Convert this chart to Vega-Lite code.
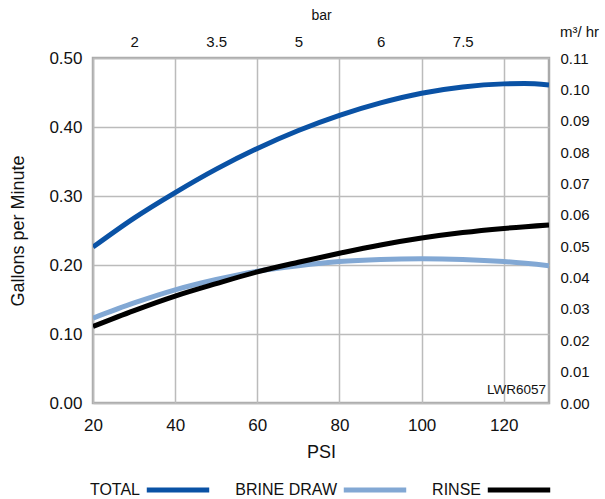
{
  "$schema": "https://vega.github.io/schema/vega-lite/v6.json",
  "width": 456,
  "height": 345,
  "autosize": {"type": "none"},
  "padding": {"left": 93, "top": 58, "right": 56, "bottom": 96},
  "background": "white",
  "config": {
    "font": "Liberation Sans",
    "view": {"stroke": "#aaaaaa", "strokeWidth": 2.5},
    "axis": {"labelColor": "#111", "titleColor": "#111", "titleFontWeight": "normal", "domain": false, "ticks": false, "labelFlush": false, "labelOverlap": false}
  },
  "datasets": {
    "curves": [
      {"psi": 20, "series": "TOTAL", "gpm": 0.226},
      {"psi": 30, "series": "TOTAL", "gpm": 0.268},
      {"psi": 40, "series": "TOTAL", "gpm": 0.305},
      {"psi": 50, "series": "TOTAL", "gpm": 0.339},
      {"psi": 60, "series": "TOTAL", "gpm": 0.369},
      {"psi": 70, "series": "TOTAL", "gpm": 0.395},
      {"psi": 80, "series": "TOTAL", "gpm": 0.417},
      {"psi": 90, "series": "TOTAL", "gpm": 0.435},
      {"psi": 100, "series": "TOTAL", "gpm": 0.449},
      {"psi": 110, "series": "TOTAL", "gpm": 0.458},
      {"psi": 120, "series": "TOTAL", "gpm": 0.4625},
      {"psi": 125, "series": "TOTAL", "gpm": 0.463},
      {"psi": 131, "series": "TOTAL", "gpm": 0.461},
      {"psi": 20, "series": "BRINE DRAW", "gpm": 0.123},
      {"psi": 30, "series": "BRINE DRAW", "gpm": 0.145},
      {"psi": 40, "series": "BRINE DRAW", "gpm": 0.164},
      {"psi": 50, "series": "BRINE DRAW", "gpm": 0.179},
      {"psi": 60, "series": "BRINE DRAW", "gpm": 0.191},
      {"psi": 70, "series": "BRINE DRAW", "gpm": 0.199},
      {"psi": 80, "series": "BRINE DRAW", "gpm": 0.205},
      {"psi": 90, "series": "BRINE DRAW", "gpm": 0.208},
      {"psi": 100, "series": "BRINE DRAW", "gpm": 0.209},
      {"psi": 110, "series": "BRINE DRAW", "gpm": 0.208},
      {"psi": 120, "series": "BRINE DRAW", "gpm": 0.205},
      {"psi": 131, "series": "BRINE DRAW", "gpm": 0.199},
      {"psi": 20, "series": "RINSE", "gpm": 0.111},
      {"psi": 30, "series": "RINSE", "gpm": 0.134},
      {"psi": 40, "series": "RINSE", "gpm": 0.155},
      {"psi": 50, "series": "RINSE", "gpm": 0.173},
      {"psi": 60, "series": "RINSE", "gpm": 0.190},
      {"psi": 70, "series": "RINSE", "gpm": 0.204},
      {"psi": 80, "series": "RINSE", "gpm": 0.217},
      {"psi": 90, "series": "RINSE", "gpm": 0.229},
      {"psi": 100, "series": "RINSE", "gpm": 0.239},
      {"psi": 110, "series": "RINSE", "gpm": 0.247},
      {"psi": 120, "series": "RINSE", "gpm": 0.253},
      {"psi": 131, "series": "RINSE", "gpm": 0.258}
    ],
    "secondary": [
      {"psi": 20, "m3": 0},
      {"psi": 131, "m3": 0.11}
    ],
    "note": [
      {"psi": 130.3, "gpm": 0.019, "label": "LWR6057"}
    ]
  },
  "layer": [
    {
      "layer": [
        {
          "data": {"name": "curves"},
          "mark": {"type": "line", "strokeWidth": 5, "interpolate": "monotone", "clip": true},
          "encoding": {
            "x": {
              "field": "psi", "type": "quantitative",
              "scale": {"domain": [20, 131], "nice": false, "zero": false},
              "axis": {
                "orient": "bottom", "values": [20, 40, 60, 80, 100, 120], "title": "PSI",
                "grid": true, "gridColor": "#bbbbbb", "gridWidth": 1.5,
                "labelFontSize": 17, "labelPadding": 14, "titleFontSize": 18, "titlePadding": 10
              }
            },
            "y": {
              "field": "gpm", "type": "quantitative",
              "scale": {"domain": [0, 0.5], "nice": false},
              "axis": {
                "orient": "left", "values": [0, 0.1, 0.2, 0.3, 0.4, 0.5], "format": ".2f",
                "title": "Gallons per  Minute", "grid": true, "gridColor": "#bbbbbb", "gridWidth": 1.5,
                "labelFontSize": 17, "labelPadding": 11, "titleFontSize": 18, "titlePadding": 21
              }
            },
            "color": {
              "field": "series", "type": "nominal",
              "scale": {"domain": ["TOTAL", "BRINE DRAW", "RINSE"], "range": ["#0a52a5", "#82a8d4", "#000000"]},
              "legend": {
                "title": null, "orient": "none", "direction": "horizontal",
                "legendX": 51, "legendY": 398,
                "symbolType": "stroke", "symbolSize": 3900, "symbolStrokeWidth": 5,
                "labelFontSize": 16, "labelAlign": "right", "labelOffset": -72,
                "columnPadding": 15, "labelLimit": 200, "labelColor": "#111"
              }
            }
          }
        },
        {
          "data": {"name": "note"},
          "mark": {"type": "text", "align": "right", "baseline": "middle", "fontSize": 13.5, "color": "#111"},
          "encoding": {
            "x": {"field": "psi", "type": "quantitative"},
            "y": {"field": "gpm", "type": "quantitative"},
            "text": {"field": "label"}
          }
        }
      ]
    },
    {
      "data": {"name": "secondary"},
      "mark": {"type": "point", "opacity": 0},
      "encoding": {
        "x": {
          "field": "psi", "type": "quantitative",
          "axis": {
            "orient": "top", "values": [30, 50, 70, 90, 110],
            "labelExpr": "datum.value == 30 ? '2' : datum.value == 50 ? '3.5' : datum.value == 70 ? '5' : datum.value == 90 ? '6' : '7.5'",
            "title": "bar", "grid": false, "labelFontSize": 15, "labelPadding": 9, "titleFontSize": 14, "titlePadding": 12
          }
        },
        "y": {
          "field": "m3", "type": "quantitative",
          "scale": {"domain": [0, 0.11], "nice": false},
          "axis": {
            "orient": "right", "values": [0, 0.01, 0.02, 0.03, 0.04, 0.05, 0.06, 0.07, 0.08, 0.09, 0.1, 0.11],
            "format": ".2f", "grid": false, "labelFontSize": 15, "labelPadding": 11,
            "title": "m³/ hr", "titleAngle": 0, "titleFontSize": 15, "titleX": 30, "titleY": -27, "titleAlign": "center", "titleBaseline": "middle"
          }
        }
      }
    }
  ],
  "resolve": {"scale": {"y": "independent"}, "axis": {"x": "independent"}}
}
